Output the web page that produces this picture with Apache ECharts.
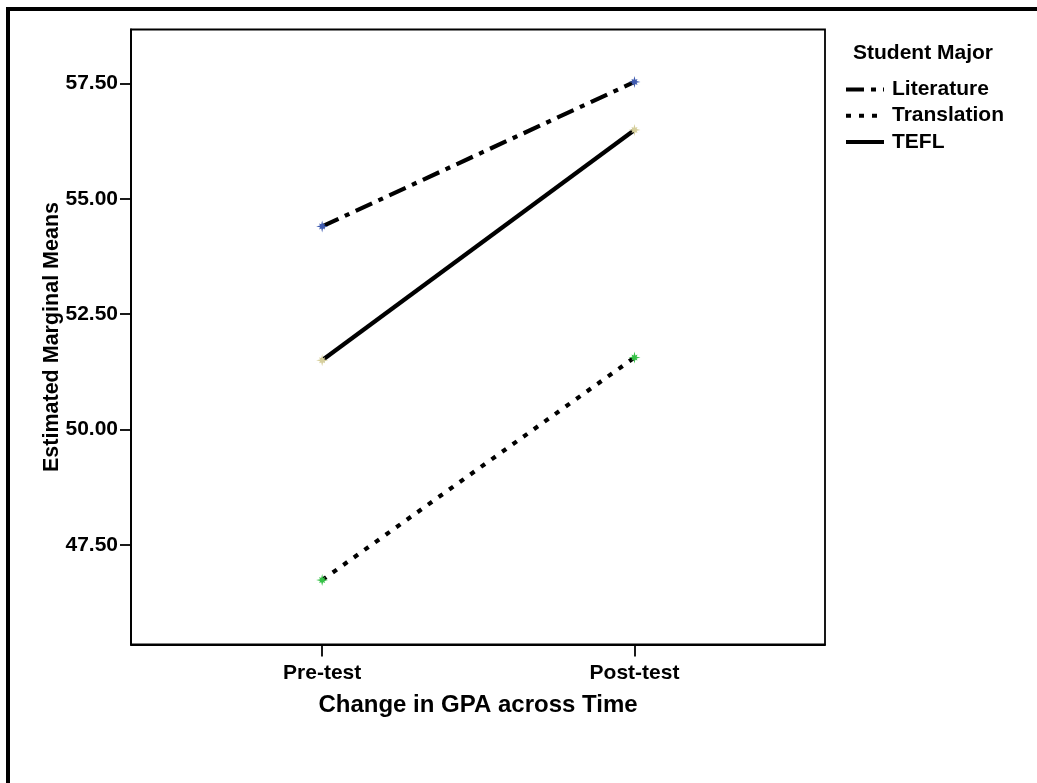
<!DOCTYPE html>
<html>
<head>
<meta charset="utf-8">
<script src="https://cdn.jsdelivr.net/npm/echarts@6/dist/echarts.min.js"></script>
<style>
html,body{margin:0;padding:0;background:#fff;}
#chart{width:1037px;height:783px;}
</style>
</head>
<body>
<div id="chart"></div>
<script>
// ---- data ----
var categories = ['Pre-test', 'Post-test'];
var seriesNames = ['Literature', 'Translation', 'TEFL'];
var literature = [54.40, 57.53];
var translation = [46.74, 51.56];
var tefl = [51.50, 56.49];
var yTicks = [47.5, 50, 52.5, 55, 57.5];
var xTicks = [0, 1];

// ---- styling ----
var FONT = '"Liberation Sans", Arial, sans-serif';
var STAR = 'path://M0,-10 L1.5,-3.6 L5,-5 L3.6,-1.5 L10,0 L3.6,1.5 L5,5 L1.5,3.6 L0,10 L-1.5,3.6 L-5,5 L-3.6,1.5 L-10,0 L-3.6,-1.5 L-5,-5 L-1.5,-3.6 Z';

function pts(arr) { return arr.map(function (v, i) { return [i, v]; }); }

function lineSeries(name, values, dash, markerColor) {
  return {
    name: name,
    type: 'line',
    data: pts(values),
    symbol: STAR,
    symbolSize: 12,
    showSymbol: true,
    itemStyle: { color: markerColor, borderWidth: 0 },
    lineStyle: { color: '#000', width: 4.2, type: dash, cap: 'butt' },
    emphasis: { disabled: true },
    animation: false
  };
}

var chart = echarts.init(document.getElementById('chart'), null, { renderer: 'canvas' });
chart.setOption({
  backgroundColor: '#fff',
  animation: false,
  textStyle: { fontFamily: FONT },
  title: {
    text: 'Student Major',
    left: 853, top: 43, padding: 0,
    textStyle: { fontFamily: FONT, fontWeight: 'bold', fontSize: 21, color: '#000' }
  },
  legend: {
    orient: 'vertical',
    left: 844, top: 79, padding: 0,
    itemWidth: 38, itemHeight: 14, itemGap: 5.2,
    data: seriesNames,
    itemStyle: { opacity: 0 },
    lineStyle: { width: 4 },
    textStyle: { fontFamily: FONT, fontWeight: 'bold', fontSize: 21, color: '#000', padding: [0, 0, 0, 3] },
    selectedMode: false
  },
  grid: {
    left: 131, top: 29.5, right: 212, bottom: 138.5,
    show: true, borderColor: '#000', borderWidth: 1.8, backgroundColor: '#fff'
  },
  xAxis: {
    type: 'value',
    min: -0.612, max: 1.61,
    splitLine: { show: false },
    axisLine: { show: true, onZero: false, lineStyle: { color: '#000', width: 1.8 } },
    axisTick: { show: true, length: 12, customValues: xTicks, lineStyle: { color: '#000', width: 1.8 } },
    axisLabel: {
      customValues: xTicks, margin: 18,
      fontFamily: FONT, fontWeight: 'bold', fontSize: 21, color: '#000',
      formatter: function (v) { return categories[Math.round(v)] || ''; }
    },
    name: 'Change in GPA across Time',
    nameLocation: 'middle', nameGap: 49,
    nameTextStyle: { fontFamily: FONT, fontWeight: 'bold', fontSize: 24, color: '#000' }
  },
  yAxis: {
    type: 'value',
    min: 45.344, max: 58.666,
    splitLine: { show: false },
    axisLine: { show: true, onZero: false, lineStyle: { color: '#000', width: 1.8 } },
    axisTick: { show: true, length: 11, customValues: yTicks, lineStyle: { color: '#000', width: 1.8 } },
    axisLabel: {
      customValues: yTicks, margin: 13,
      fontFamily: FONT, fontWeight: 'bold', fontSize: 21, color: '#000',
      formatter: function (v) { return v.toFixed(2); }
    },
    name: 'Estimated Marginal Means',
    nameLocation: 'middle', nameGap: 68,
    nameMoveOverlap: false,
    nameTextStyle: { fontFamily: FONT, fontWeight: 'bold', fontSize: 21.5, color: '#000' }
  },
  graphic: [
    { type: 'line', shape: { x1: 8, y1: 7, x2: 8, y2: 783 }, style: { stroke: '#000', lineWidth: 4 }, silent: true },
    { type: 'line', shape: { x1: 6, y1: 9, x2: 1037, y2: 9 }, style: { stroke: '#000', lineWidth: 4 }, silent: true }
  ],
  series: [
    lineSeries(seriesNames[0], literature, [18, 7, 5, 7], '#3f5bb0'),
    lineSeries(seriesNames[1], translation, [5, 8], '#36c247'),
    lineSeries(seriesNames[2], tefl, 'solid', '#d6cf9c')
  ]
});
</script>
</body>
</html>
